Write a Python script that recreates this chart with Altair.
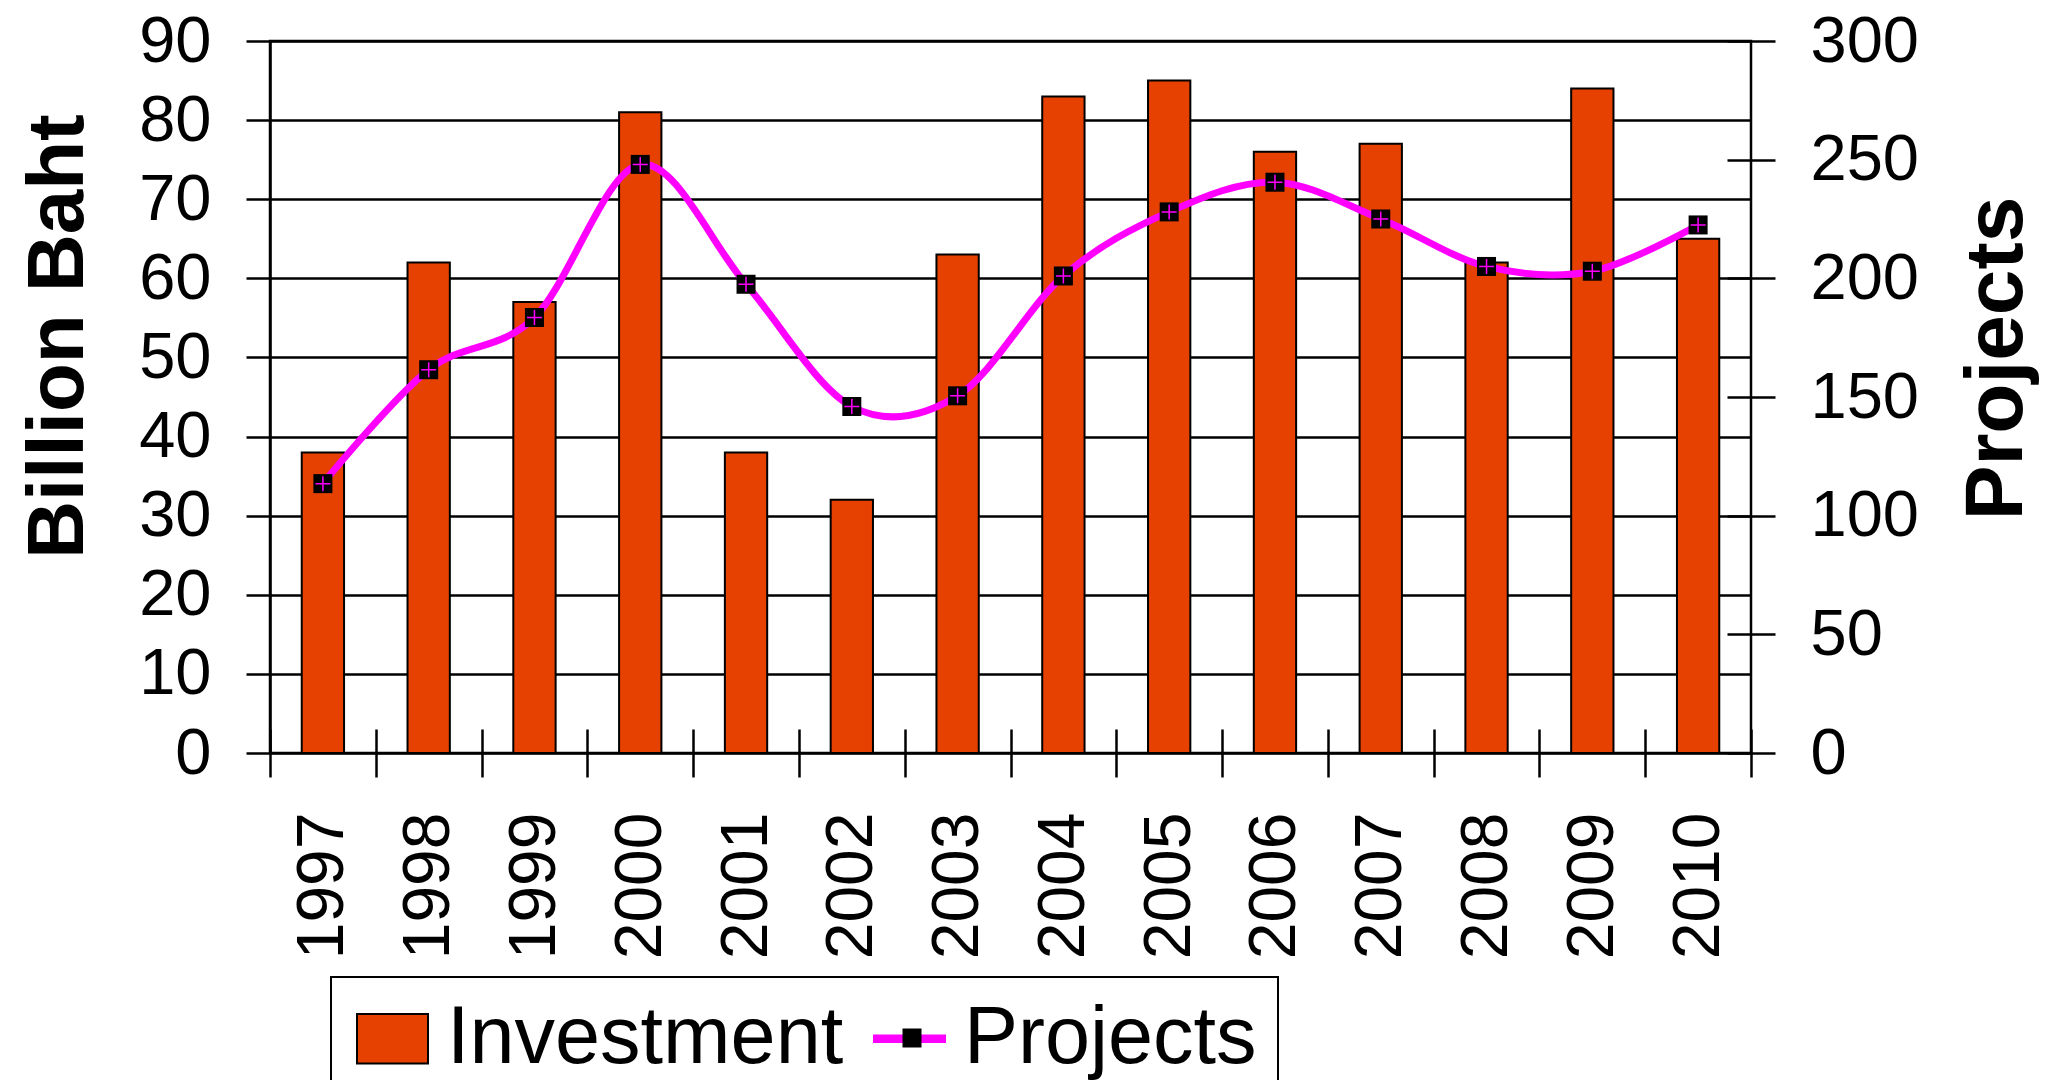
import altair as alt
import pandas as pd

# ---- data ----
years = ["1997", "1998", "1999", "2000", "2001", "2002", "2003",
         "2004", "2005", "2006", "2007", "2008", "2009", "2010"]
investment = [38, 62, 57, 81, 38, 32, 63, 83, 85, 76, 77, 62, 84, 65]
projects = [113.5, 161.5, 183.5, 248, 197.5, 146, 150.5,
            201, 228, 240.5, 225, 205, 203, 222.5]
series = ["Investment", "Projects"]
series_fill = ["#E64100", "#FF00FF"]
series_stroke = ["black", "#FF00FF"]
left_ticks = [0, 10, 20, 30, 40, 50, 60, 70, 80, 90]
right_ticks = [0, 50, 100, 150, 200, 250, 300]

df = pd.DataFrame({"year": years, "investment": investment, "projects": projects})

FONT = "Liberation Sans"
BAR = "#E64100"
MAG = "#FF00FF"
LW = 2.5
PLUS = "M-1,0L1,0M0,-1L0,1"
TOP = 41  # page y of the plot's top edge (incl. 8px page margin)

x_enc = alt.X(
    "year:N", sort=years,
    scale=alt.Scale(paddingInner=0, paddingOuter=0),
    axis=alt.Axis(
        offset=-24, domain=False, grid=False,
        tickSize=48, tickBand="extent", tickColor="black", tickWidth=LW,
        labelAngle=270, labelAlign="right", labelBaseline="middle",
        labelPadding=35, labelFontSize=66, labelFont=FONT, labelColor="black",
        labelOverlap=False, title=None,
    ),
)

left_y = alt.Y(
    "investment:Q",
    scale=alt.Scale(domain=[0, 90], nice=False),
    axis=alt.Axis(
        orient="left", values=left_ticks,
        grid=True, gridColor="black", gridWidth=LW, gridOpacity=1,
        domain=True, domainColor="black", domainWidth=LW,
        tickSize=24, tickColor="black", tickWidth=LW,
        labelPadding=35, labelFontSize=65, labelFont=FONT, labelColor="black",
        title="Billion Baht", titleX=-188, titleY=336 - TOP, titleAngle=270,
        titleAlign="center", titleBaseline="alphabetic",
        titleFontSize=80, titleFont=FONT, titleFontWeight="bold", titleColor="black",
    ),
)

right_axis = alt.Axis(
    orient="right", values=right_ticks, offset=-24,
    grid=False, domain=False,
    tickSize=48, tickColor="black", tickWidth=LW,
    labelPadding=35, labelFontSize=65, labelFont=FONT, labelColor="black",
    title="Projects", titleX=294, titleY=358 - TOP, titleAngle=270,
    titleAlign="center", titleBaseline="alphabetic",
    titleFontSize=82, titleFont=FONT, titleFontWeight="bold", titleColor="black",
)
right_y = alt.Y("projects:Q", scale=alt.Scale(domain=[0, 300], nice=False), axis=right_axis)

bars = alt.Chart(df).mark_bar(
    width=alt.RelativeBandSize(0.4), color=BAR, stroke="black", strokeWidth=2
).encode(x=x_enc, y=left_y)

line = alt.Chart(df).mark_line(
    interpolate="cardinal", color=MAG, strokeWidth=7
).encode(x=x_enc, y=right_y)

squares = alt.Chart(df).mark_point(
    shape="square", filled=True, size=361, color="black", opacity=1
).encode(x=x_enc, y=right_y)

crosses = alt.Chart(df).mark_point(
    shape=PLUS, filled=False, size=225, color=MAG, strokeWidth=1.5, opacity=1
).encode(x=x_enc, y=right_y)

rect_path = "M-1,-0.7L1,-0.7L1,0.7L-1,0.7Z"
line_path = "M-1,-0.09L1,-0.09L1,0.09L-1,0.09Z"

legend_def = alt.Legend(
    title=None, orient="none", legendX=61, legendY=977 - TOP, direction="horizontal",
    symbolSize=5041, symbolStrokeWidth=2,
    labelFontSize=81, labelFont=FONT, labelColor="black", labelLimit=0,
    labelOffset=14, columnPadding=25, padding=21, strokeColor="black",
)

leg = alt.Chart(df).transform_calculate(series="'Investment'").transform_filter("false").mark_point(
    filled=True, opacity=1
).encode(
    fill=alt.Fill("series:N", scale=alt.Scale(domain=series, range=series_fill), legend=legend_def),
    stroke=alt.Stroke("series:N", scale=alt.Scale(domain=series, range=series_stroke), legend=legend_def),
    shape=alt.Shape("series:N", scale=alt.Scale(domain=series, range=[rect_path, line_path]), legend=legend_def),
)

# marker drawn on the legend's Projects line: black square + magenta plus
MKX, MKY = 912, 1038  # page position of the legend marker centre
mk_square = alt.Chart(df).transform_calculate(mk="'Projects'").transform_filter("false").mark_point(
    filled=True, shape="square", color="black", opacity=1
).encode(
    size=alt.Size("mk:O", scale=alt.Scale(domain=["Projects"], range=[361, 361]),
                  legend=alt.Legend(title=None, orient="none",
                                    legendX=MKX - 270 - 9.5, legendY=MKY - TOP - 9.5,
                                    padding=0, labelExpr="''", labelFontSize=1, labelOffset=0,
                                    symbolType="square", symbolFillColor="black",
                                    symbolStrokeWidth=0, symbolOpacity=1)),
)
mk_plus = alt.Chart(df).transform_calculate(mp="'Projects'").transform_filter("false").mark_point(
    filled=False, shape=PLUS, color=MAG, opacity=1, strokeWidth=1.5
).encode(
    opacity=alt.Opacity("mp:O", scale=alt.Scale(domain=["Projects"], range=[1, 1]),
                        legend=alt.Legend(title=None, orient="none",
                                          legendX=MKX - 270 - 7.5, legendY=MKY - TOP - 7.5,
                                          padding=0, labelExpr="''", labelFontSize=1, labelOffset=0,
                                          symbolType=PLUS, symbolSize=225,
                                          symbolStrokeColor=MAG, symbolFillColor="transparent",
                                          symbolStrokeWidth=1.5, symbolOpacity=1)),
)

chart = alt.layer(
    bars, alt.layer(line, squares, crosses), leg, mk_square, mk_plus
).resolve_scale(y="independent").properties(
    width=1481, height=712,
    autosize=alt.AutoSizeParams(type="none"),
    padding={"left": 262, "top": TOP - 8, "right": 295, "bottom": 1072 - (TOP - 8) - 712},
).configure(font=FONT).configure_view(
    stroke="black", strokeWidth=LW
).configure_legend(strokeWidth=2)

chart.save("out.html", embed_options={"renderer": "svg", "actions": False})
